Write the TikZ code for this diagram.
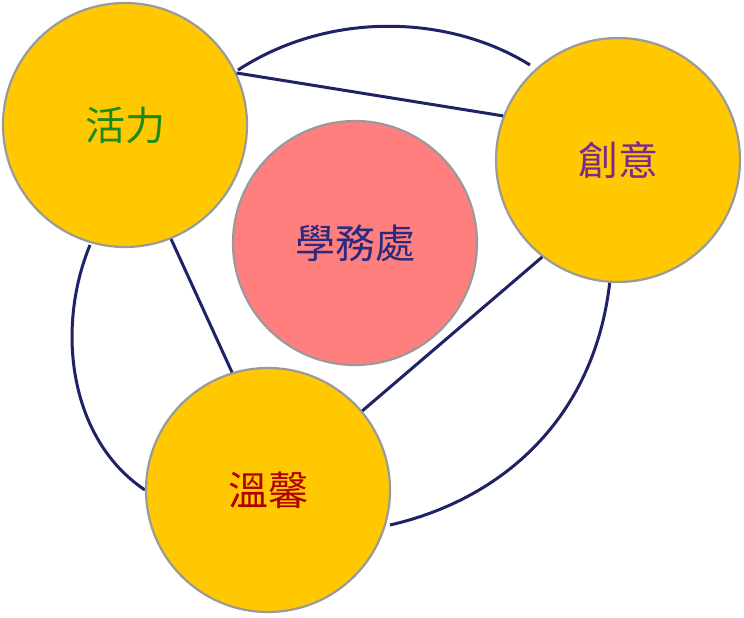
\documentclass[tikz,border=0pt]{standalone}
\usepackage{fontspec}
\newfontfamily\cjk{Noto Sans CJK TC}
\definecolor{gold}{HTML}{FFC800}
\definecolor{rim}{HTML}{9A9A9A}
\definecolor{pinkc}{HTML}{FF7F7F}
\definecolor{navy}{HTML}{1F2366}
\definecolor{tgreen}{HTML}{1A8A1A}
\definecolor{tpurple}{HTML}{7A2A8A}
\definecolor{tred}{HTML}{B00000}
\definecolor{tblue}{HTML}{2A2A80}
\begin{document}
\begin{tikzpicture}[x=1pt,y=-1pt,
  ball/.style={circle,draw=rim,line width=2.2pt,minimum size=244pt,inner sep=0pt,font=\cjk\fontsize{40}{40}\selectfont},
  link/.style={draw=navy,line width=3pt}]
\useasboundingbox (0,0) rectangle (744,618);
\draw[link] (238,70) .. controls (330,10) and (450,15) .. (530,65);
\draw[link] (610,280) .. controls (595,420) and (500,500) .. (390,525);
\draw[link] (145,490) .. controls (70,440) and (55,330) .. (90,245);
\node[ball,fill=gold,text=tgreen] (huo) at (125,125) {活力};
\node[ball,fill=gold,text=tpurple] (chuang) at (618,160) {創意};
\node[ball,fill=gold,text=tred] (wen) at (268,490) {溫馨};
\node[ball,fill=pinkc,text=tblue] (xue) at (355,243) {學務處};
\draw[link] (huo.25) -- (chuang.159);
\draw[link] (huo.-68) -- (wen.107);
\draw[link] (chuang.-128) -- (wen.40);
\end{tikzpicture}
\end{document}
